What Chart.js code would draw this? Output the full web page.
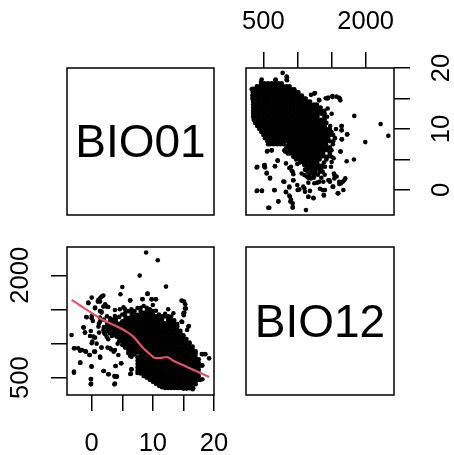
<!DOCTYPE html>
<html>
<head>
<meta charset="utf-8">
<script src="https://cdn.jsdelivr.net/npm/chart.js@4"></script>
<style>
    html, body { margin: 0; background: #fff; }
    canvas { position: absolute; left: 0; top: 0; }
</style>
</head>
<body>
<canvas id="bio01Label" width="454" height="455"></canvas>
<canvas id="topRight" width="454" height="455"></canvas>
<canvas id="bottomLeft" width="454" height="455"></canvas>
<canvas id="bio12Label" width="454" height="455"></canvas>
<script>
// --- Data ---
// dense part of the cloud: one BIO01 value per row, with the BIO12 values of that row
const bio01Rows = [17.5, 17, 16.5, 16, 15.5, 15, 14.5, 14, 13.5, 13, 12.5, 12, 11.5, 11, 10.5, 10, 9.5, 9, 8.5, 8, 7.5, 7, 6.5, 6, 5.5, 5, 4.5, 4, 3.5, 3, 2.5, 2];
const bio12Rows = [
    [470, 520, 570, 620, 670, 720, 770],
    [405, 445, 495, 545, 595, 645, 695, 745, 795, 845, 885],
    [330, 370, 420, 470, 520, 570, 620, 670, 720, 770, 820, 870, 920, 955],
    [345, 395, 445, 495, 545, 595, 645, 695, 745, 795, 845, 895, 945, 995, 1015],
    [340, 370, 420, 470, 520, 570, 620, 670, 720, 770, 820, 870, 920, 970, 1020, 1065],
    [340, 395, 445, 495, 545, 595, 645, 695, 745, 795, 845, 895, 945, 995, 1045, 1095, 1120],
    [350, 400, 450, 500, 550, 600, 650, 700, 750, 800, 850, 900, 950, 1000, 1050, 1100, 1150, 1185],
    [350, 395, 445, 495, 545, 595, 645, 695, 745, 795, 845, 895, 945, 995, 1045, 1095, 1145, 1195, 1245, 1285],
    [350, 400, 450, 500, 550, 600, 650, 700, 750, 800, 850, 900, 950, 1000, 1050, 1100, 1150, 1200, 1250, 1300, 1340],
    [350, 395, 445, 495, 545, 595, 645, 695, 745, 795, 845, 895, 945, 995, 1045, 1095, 1145, 1195, 1245, 1295, 1345, 1395],
    [350, 400, 450, 500, 550, 600, 650, 700, 750, 800, 850, 900, 950, 1000, 1050, 1100, 1150, 1200, 1250, 1300, 1350, 1400],
    [350, 395, 445, 495, 545, 595, 645, 695, 745, 795, 845, 895, 945, 995, 1045, 1095, 1145, 1195, 1245, 1295, 1395, 1435],
    [360, 400, 450, 500, 550, 600, 650, 700, 750, 800, 850, 900, 950, 1000, 1050, 1100, 1150, 1200, 1250, 1300, 1350, 1400],
    [380, 425, 475, 525, 575, 625, 675, 725, 775, 825, 875, 925, 975, 1025, 1075, 1125, 1175, 1225, 1275, 1325, 1375, 1425],
    [410, 450, 500, 550, 600, 650, 700, 750, 800, 850, 900, 950, 1000, 1050, 1100, 1150, 1200, 1250, 1300, 1350, 1400, 1480],
    [440, 475, 525, 575, 625, 675, 725, 775, 825, 875, 925, 975, 1025, 1075, 1125, 1175, 1225, 1275, 1325, 1375, 1425, 1475],
    [470, 500, 550, 600, 650, 700, 750, 800, 850, 900, 950, 1000, 1050, 1100, 1150, 1200, 1250, 1300, 1350, 1400, 1450, 1500],
    [500, 525, 575, 625, 675, 725, 775, 825, 875, 925, 975, 1025, 1075, 1125, 1175, 1225, 1275, 1325, 1375, 1425, 1475, 1525],
    [525, 550, 600, 650, 700, 750, 800, 850, 900, 950, 1000, 1050, 1100, 1150, 1200, 1250, 1300, 1350, 1400, 1450, 1550],
    [560, 575, 625, 675, 725, 775, 825, 875, 925, 975, 1025, 1075, 1125, 1175, 1225, 1275, 1325, 1375, 1425, 1475, 1525],
    [570, 600, 650, 700, 750, 800, 870, 920, 970, 1020, 1070, 1120, 1170, 1220, 1270, 1320, 1370, 1420, 1520],
    [840, 875, 925, 975, 1025, 1075, 1125, 1175, 1225, 1275, 1325, 1375, 1425, 1475],
    [870, 900, 950, 1000, 1050, 1100, 1150, 1200, 1250, 1300, 1350, 1400, 1450, 1500],
    [890, 925, 975, 1025, 1075, 1125, 1175, 1225, 1275, 1325, 1375, 1475],
    [960, 1000, 1050, 1100, 1150, 1200, 1250, 1300, 1350, 1400, 1450],
    [980, 1025, 1075, 1125, 1175, 1225, 1275, 1325, 1425],
    [1040, 1090, 1140, 1190, 1240, 1290, 1390],
    [1115, 1165, 1215, 1265, 1315, 1365],
    [1150, 1200, 1250, 1300, 1350],
    [1150, 1210, 1260, 1330],
    [1180, 1240, 1300, 1400],
    [1160, 1240, 1350]
];
// scattered points around the cloud
const bio01Loose = [10.8, 8.9, 7.85, 12.15, 5.0, 4.7, 9.15, 10.5, 9.8, 8.3, 6.3, 14.9, 15.3, 15.4, 15.15, 15.05, 15.9, 15.6, 14.8, 19.2, 18.6, 18.1, 18.1, 18.1, 3.8, 4.1, 3.7, 3.9, 4.85, 6.5, 6.4, 2.8, 2.0, -0.1, -0.1, -0.05, -2.9, -1.85, -2.8, -2.2, -1.6, -1.1, -0.3, 0.4, 1.4, 1.6, 0.8, 0.1, -3.3, -1.3, -1.1, -0.15, 0.55, 3.6, 3.15, 2.6, 3.3, 2.7, 0.2, -0.9, 0, -0.55, 0, 0.55, 1, 1.35, 1.9, 2.2, 2.7, 1.35, 1.6, 1.35, 1.2, 1.2, 2.2, 2.6, 5.45, 3.8, 3.3, 3.8, 4.25, 5.45, 6.3,
    -0.55, 1.1, 1.6, 1.36, 0.55, -0.8, 0, -1.36, -1.1, -0.27, 0.27, 1.36, 1.9, 2.45, 1.6, 3, 3.8, 4.6, 5.2, 6.3, 1.9, 2.7, 1.1, 2.45, 3.5, 4.1, 4.9, 5.45, 3, 3.8, 1.6, 0, 0.55, -0.38, -0.93, -1.9, -2.9, 1.36, 4.36, 6, 6.5, -1.9, 0, -2.9, 1.9, 2.7, 3.9, 4.8, 3.8, 4.1, 3.7, -0.16, -0.16, 6.3, 6.5, 8.3, 9.1, 9.8, 10.5, 10, 12.5, 14.7, 15.1, 15.26, 15, 14.7, 15.8, 13.35, 18, 18.5, 18, 17.7, 16.6];
const bio12Loose = [2220, 2333, 1995, 1834, 1829, 1722, 1731, 1648, 1648, 1653, 1634, 1624, 1575, 1512, 1453, 1414, 1257, 1199, 1316, 783, 842, 842, 681, 476, 412, 519, 524, 671, 710, 622, 559, 549, 598, 412, 480, 666, 573, 720, 930, 930, 906, 891, 832, 881, 793, 940, 998, 1028, 1125, 1233, 1160, 1184, 1086, 881, 915, 940, 1111, 1062, 1331, 1389, 1404, 1590, 1673, 1526, 1614, 1663, 1702, 1575, 1536, 1477, 1453, 1380, 1292, 1160, 1135, 1272, 1502, 1404, 1331, 1184, 998, 940, 818,
    1600, 1639, 1687, 1614, 1516, 1385, 1370, 1238, 1160, 1111, 1101, 1321, 1541, 1541, 1468, 1370, 1492, 1502, 1531, 1629, 1199, 1248, 1248, 1101, 1150, 1101, 1052, 979, 930, 906, 940, 1003, 881, 832, 881, 896, 930, 808, 832, 857, 808, 720, 661, 588, 598, 549, 671, 710, 515, 515, 402, 480, 402, 554, 622, 1648, 1727, 1648, 1648, 1565, 1502, 1629, 1614, 1516, 1443, 1321, 1248, 1443, 847, 847, 676, 466, 344];
// smoother in the lower left panel
const smoothBio01 = [-3.27, 1.36, 5.7, 6.8, 8.45, 9.5, 10.35, 11.2, 12.3, 13.35, 15.5, 19.2];
const smoothBio12 = [1639, 1370, 1174, 1101, 930, 847, 788, 788, 803, 749, 661, 510];
// axes
const bio01Ticks = [0, 5, 10, 15, 20];
const bio01Labels = [0, 10, 20];
const bio12Ticks = [500, 1000, 1500, 2000];
const bio12Labels = [500, 2000];

// --- Helpers ---
const FONT = 'Liberation Sans, Arial, sans-serif';

const cloud = bio01Rows.flatMap((t, i) => bio12Rows[i].map(p => ({ t: t, p: p })))
    .concat(bio01Loose.map((t, i) => ({ t: t, p: bio12Loose[i] })));

// R style box round the plot area
const boxPlugin = {
    id: 'box',
    afterDraw(chart) {
        const a = chart.chartArea;
        const ctx = chart.ctx;
        ctx.save();
        ctx.strokeStyle = '#000';
        ctx.lineWidth = 1.5;
        ctx.strokeRect(a.left, a.top, a.right - a.left, a.bottom - a.top);
        ctx.restore();
    }
};

function axis(position, min, max, ticks, labels, size, padding) {
    const vertical = position === 'left' || position === 'right';
    return {
        type: 'linear',
        position: position,
        min: min,
        max: max,
        border: { display: false },
        grid: { drawOnChartArea: false, drawTicks: true, tickLength: 16, color: '#000', lineWidth: 1.5 },
        ticks: {
            color: '#000',
            font: { family: FONT, size: 25.5 },
            padding: padding,
            autoSkip: false,
            minRotation: vertical ? 90 : 0,
            maxRotation: vertical ? 90 : 0,
            crossAlign: vertical ? 'center' : 'near',
            callback: v => labels.includes(v) ? String(v) : ''
        },
        afterBuildTicks: s => { s.ticks = ticks.map(v => ({ value: v })); },
        afterFit: s => {
            if (vertical) s.width = size; else s.height = size;
            s.paddingLeft = s.paddingRight = s.paddingTop = s.paddingBottom = 0;
        }
    };
}

function baseOptions(padding, scales) {
    return {
        responsive: false,
        animation: false,
        layout: { padding: padding },
        plugins: { legend: { display: false }, tooltip: { enabled: false } },
        scales: scales
    };
}

function dots(data) {
    return { data: data, pointRadius: 2.3, pointBackgroundColor: '#000', pointBorderWidth: 0, showLine: false };
}

// diagonal panels only hold the variable name
function namePanel(id, name, padding) {
    new Chart(document.getElementById(id), {
        type: 'scatter',
        data: { datasets: [] },
        options: baseOptions(padding, {
            x: { display: false, min: 0, max: 1 },
            y: { display: false, min: 0, max: 1 }
        }),
        plugins: [boxPlugin, {
            id: 'name',
            afterDraw(chart) {
                const a = chart.chartArea;
                const ctx = chart.ctx;
                ctx.save();
                ctx.fillStyle = '#000';
                ctx.font = '46px ' + FONT;
                ctx.textAlign = 'center';
                ctx.textBaseline = 'middle';
                ctx.fillText(name, (a.left + a.right) / 2, (a.top + a.bottom) / 2 + 3);
                ctx.restore();
            }
        }]
    });
}

// --- Panels ---
namePanel('bio01Label', 'BIO01', { left: 67, top: 68, right: 240, bottom: 240 });
namePanel('bio12Label', 'BIO12', { left: 246, top: 247, right: 60, bottom: 60 });

new Chart(document.getElementById('topRight'), {
    type: 'scatter',
    data: { datasets: [dots(cloud.map(d => ({ x: d.p, y: d.t })))] },
    options: baseOptions({ left: 246, bottom: 240 }, {
        x: axis('top', 246, 2416, bio12Ticks, bio12Labels, 68, 15),
        y: axis('right', -4.1, 20, bio01Ticks, bio01Labels, 60, 18)
    }),
    plugins: [boxPlugin]
});

new Chart(document.getElementById('bottomLeft'), {
    type: 'scatter',
    data: {
        datasets: [
            {
                data: smoothBio01.map((t, i) => ({ x: t, y: smoothBio12[i] })),
                showLine: true,
                pointRadius: 0,
                borderColor: '#DF536B',
                borderWidth: 2.2,
                cubicInterpolationMode: 'monotone'
            },
            dots(cloud.map(d => ({ x: d.t, y: d.p })))
        ]
    },
    options: baseOptions({ right: 240, top: 247 }, {
        x: axis('bottom', -4.04, 20, bio01Ticks, bio01Labels, 60, 18),
        y: axis('left', 246, 2414, bio12Ticks, bio12Labels, 67, 2)
    }),
    plugins: [boxPlugin]
});
</script>
</body>
</html>
